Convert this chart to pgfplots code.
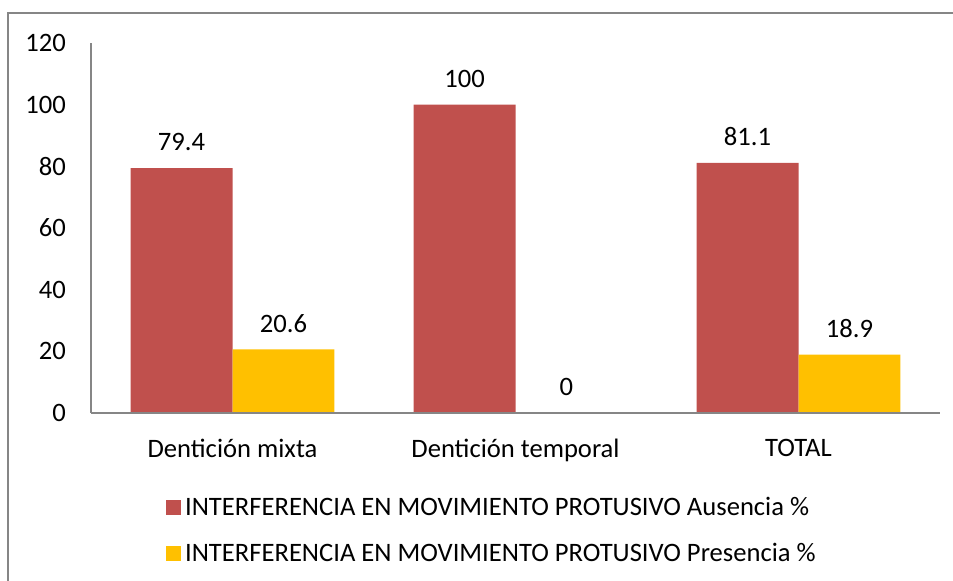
\documentclass[border=0pt]{standalone}
\usepackage{pgfplots}
\pgfplotsset{compat=1.18}
\usepackage{fontspec}
\setmainfont{Carlito}
\definecolor{cred}{HTML}{C0504D}
\definecolor{cyel}{HTML}{FFC000}
\definecolor{cgray}{HTML}{868686}
\begin{document}
\begin{tikzpicture}
\path[use as bounding box] (0,0) rectangle (476.5pt,290.5pt);
\draw[cgray,line width=1pt] (4pt,0pt) -- (4pt,284pt) -- (476.5pt,284pt);
\begin{axis}[
  at={(45.5pt,84pt)}, anchor=south west,
  scale only axis, width=424.5pt, height=185pt,
  ybar, bar width=0.36,
  xmin=-0.5, xmax=2.5, ymin=0, ymax=120,
  xtick={0,1,2}, xticklabels={Dentición mixta,Dentición temporal,TOTAL},
  ytick={0,20,...,120},
  axis x line*=bottom, axis y line*=left,
  axis line style={cgray,line width=1pt},
  axis on top,
  separate axis lines,
  x axis line style={-}, y axis line style={-},
  major tick length=0pt,
  font=\fontsize{13.3}{16}\selectfont,
  /pgf/number format/assume math mode=true,
  yticklabel style={xshift=-9pt},
  xticklabel style={yshift=-9.5pt},
  nodes near coords,
  nodes near coords style={font=\fontsize{13.3}{16}\selectfont, yshift=5pt},
  legend style={at={(axis description cs:0.088,-0.215)}, anchor=north west, draw=none, fill=none,
    font=\fontsize{13.3}{16}\selectfont, row sep=8.5pt, inner sep=0pt},
  legend cell align=left,
  legend image code/.code={\fill[#1] (0pt,-3.75pt) rectangle (7.5pt,3.75pt);},
]
\addplot[fill=cred, draw=none, bar shift=-0.18] coordinates {(0,79.4) (1,100) (2,81.1)};
\addplot[fill=cyel, draw=none, bar shift=0.18] coordinates {(0,20.6) (1,0) (2,18.9)};
\legend{INTERFERENCIA EN MOVIMIENTO PROTUSIVO Ausencia \%, INTERFERENCIA EN MOVIMIENTO PROTUSIVO Presencia \%}
\end{axis}
\end{tikzpicture}
\end{document}
